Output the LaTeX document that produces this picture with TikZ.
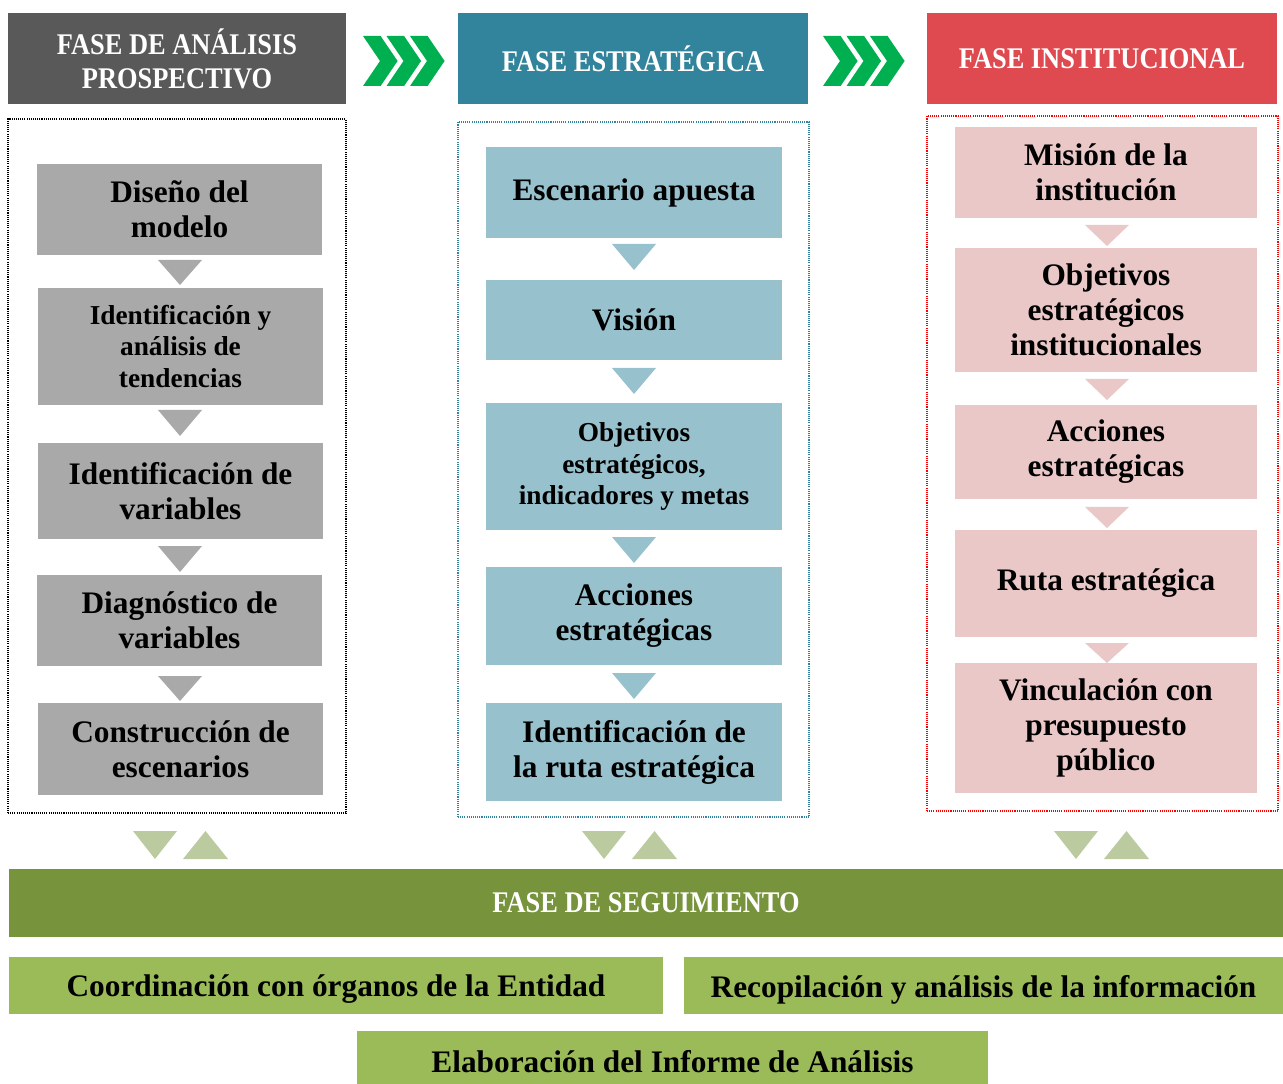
\documentclass[tikz,border=0pt]{standalone}
\usepackage{fontspec}
\setmainfont{Liberation Serif}
\newfontfamily\hdfont[FakeStretch=0.88]{Liberation Serif}
\usetikzlibrary{fit}
\definecolor{hgray}{HTML}{595959}
\definecolor{lgray}{HTML}{A9A9A9}
\definecolor{hteal}{HTML}{31849B}
\definecolor{lteal}{HTML}{98C1CE}
\definecolor{hred}{HTML}{DE4A4F}
\definecolor{lred}{HTML}{EBC8C8}
\definecolor{dgreen}{HTML}{77933C}
\definecolor{mgreen}{HTML}{9BBB59}
\definecolor{tgreen}{HTML}{BCCAA0}
\definecolor{cgreen}{HTML}{00B050}
\newcommand\fbig{\bfseries\fontsize{23.5}{26.3}\selectfont}
\newcommand\fsmall{\bfseries\fontsize{20.5}{23.3}\selectfont}
\newcommand\fhead{\hdfont\bfseries\fontsize{22.5}{25.5}\selectfont}
\newcommand\chevron[2]{\fill[cgreen] (#1,#2) -- ++(17.6,0) -- ++(17,25) -- ++(-17,25) -- ++(-17.6,0) -- ++(17,-25) -- cycle;}
\newcommand\downtri[5]{\fill[#5] (#1-#4,#2) -- (#1+#4,#2) -- (#1,#3) -- cycle;}
\newcommand\uptri[5]{\fill[#5] (#1-#4,#3) -- (#1+#4,#3) -- (#1,#2) -- cycle;}
% \bx{name}{x1}{y1}{x2}{y2}{fill}{text style}{text}
\newcommand\bx[8]{\node[inner sep=0pt, fill=#6, fit={(#2,#3)(#4,#5)}] (#1) {};
  \node[txt, #7] (#1t) at (#1.center) {#8};}
\begin{document}
\begin{tikzpicture}[x=0.75pt,y=-0.75pt,
  txt/.style={inner sep=0pt, align=center, text=black},
  big/.style={font=\fbig},
  small/.style={font=\fsmall},
  head/.style={font=\fhead, text=white},
  frame/.style={inner sep=0pt, line width=0.8pt, dash pattern=on 0.8pt off 0.8pt}]
\useasboundingbox (0,0) rectangle (1283,1084);
% headers
\bx{h1}{8}{13}{346}{104}{hgray}{head}{FASE DE ANÁLISIS\\PROSPECTIVO}
\bx{h2}{458}{13}{808}{104}{hteal}{head}{FASE ESTRATÉGICA}
\bx{h3}{927}{13}{1277}{104}{hred}{head}{FASE INSTITUCIONAL}
% chevrons
\foreach \dx in {0,23.5,47} {\chevron{363+\dx}{36}}
\foreach \dx in {0,23.5,47} {\chevron{823+\dx}{36}}
% frames
\node[frame, draw=black, fit={(8,119)(346,813)}] (f1) {};
\node[frame, draw=hteal, fit={(458,122)(809,817)}] (f2) {};
\node[frame, draw=red, fit={(927,116)(1278,811)}] (f3) {};
% left column
\bx{l1}{37}{164}{322}{255}{lgray}{big}{Diseño del\\modelo}
\bx{l2}{38}{288}{323}{405}{lgray}{small}{Identificación y\\análisis de\\tendencias}
\bx{l3}{38}{443}{323}{539}{lgray}{big}{Identificación de\\variables}
\bx{l4}{37}{575}{322}{666}{lgray}{big}{Diagnóstico de\\variables}
\bx{l5}{38}{703}{323}{795}{lgray}{big}{Construcción de\\escenarios}
\downtri{180}{260}{285}{22}{lgray}
\downtri{180}{410}{436}{22}{lgray}
\downtri{180}{546}{572}{22}{lgray}
\downtri{180}{676}{701}{22}{lgray}
% middle column
\bx{m1}{486}{147}{782}{238}{lteal}{big}{Escenario apuesta}
\bx{m2}{486}{280}{782}{360}{lteal}{big}{Visión}
\bx{m3}{486}{403}{782}{530}{lteal}{small}{Objetivos\\estratégicos,\\indicadores y metas}
\bx{m4}{486}{567}{782}{665}{lteal}{big}{Acciones\\estratégicas}
\bx{m5}{486}{703}{782}{801}{lteal}{big}{Identificación de\\la ruta estratégica}
\downtri{634}{244}{270}{22}{lteal}
\downtri{634}{368}{394}{22}{lteal}
\downtri{634}{537}{563}{22}{lteal}
\downtri{634}{673}{699}{22}{lteal}
% right column
\bx{r1}{955}{127}{1257}{218}{lred}{big}{Misión de la\\institución}
\bx{r2}{955}{248}{1257}{372}{lred}{big}{Objetivos\\estratégicos\\institucionales}
\bx{r3}{955}{405}{1257}{499}{lred}{big}{Acciones\\estratégicas}
\bx{r4}{955}{530}{1257}{637}{lred}{big}{Ruta estratégica}
\bx{r5}{955}{663}{1257}{793}{lred}{big}{Vinculación con\\presupuesto\\público}
\downtri{1107}{225}{246}{22}{lred}
\downtri{1107}{379}{400}{22}{lred}
\downtri{1107}{507}{528}{22}{lred}
\downtri{1107}{643}{663}{22}{lred}
% green double triangles
\downtri{155}{831}{859}{22}{tgreen}
\uptri{205.5}{831}{859}{22.5}{tgreen}
\downtri{604}{831}{859}{22}{tgreen}
\uptri{654.5}{831}{859}{22.5}{tgreen}
\downtri{1076}{831}{859}{22}{tgreen}
\uptri{1126.5}{831}{859}{22.5}{tgreen}
% follow-up phase
\bx{s}{9}{869}{1283}{937}{dgreen}{head}{FASE DE SEGUIMIENTO}
\bx{s1}{9}{957}{663}{1014}{mgreen}{big, yshift=-3}{Coordinación con órganos de la Entidad}
\bx{s2}{684}{957}{1283}{1014}{mgreen}{big, yshift=-3}{Recopilación y análisis de la información}
\bx{s3}{357}{1031}{988}{1084}{mgreen}{big, yshift=-3}{Elaboración del Informe de Análisis}
\end{tikzpicture}
\end{document}
